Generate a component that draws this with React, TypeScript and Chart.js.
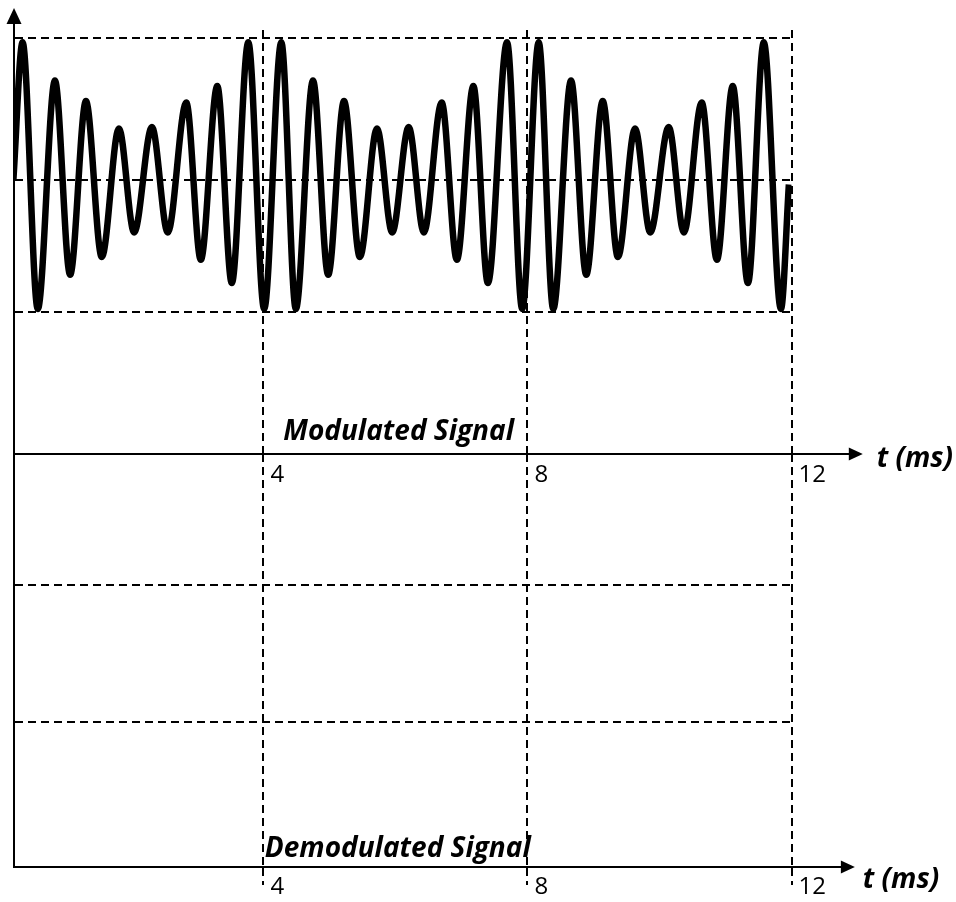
import React, { useEffect, useRef } from "react";
import { Chart, registerables } from "chart.js";

Chart.register(...registerables);

// ---- data ----
// Modulated signal: start, every crest/trough, end (time in ms, amplitude in units)
const SIGNAL_T = [
  0.21,
  0.35, 0.58, 0.84, 1.07, 1.31, 1.55, 1.81, 2.04, 2.31, 2.55, 2.83, 3.05, 3.3, 3.52, 3.77, 4.01,
  4.27, 4.49, 4.75, 4.98, 5.22, 5.46, 5.72, 5.95, 6.2, 6.43, 6.7, 6.93, 7.18, 7.4, 7.69, 7.92,
  8.17, 8.39, 8.66, 8.89, 9.14, 9.37, 9.63, 9.86, 10.14, 10.37, 10.64, 10.87, 11.11, 11.34, 11.58, 11.84,
  11.96,
];
const SIGNAL_V = [
  2.0,
  3.01, 1.06, 2.73, 1.31, 2.58, 1.44, 2.38, 1.62, 2.39, 1.62, 2.57, 1.42, 2.69, 1.25, 3.01, 1.06,
  3.01, 1.06, 2.73, 1.31, 2.58, 1.44, 2.38, 1.62, 2.39, 1.62, 2.57, 1.42, 2.69, 1.25, 3.01, 1.06,
  3.01, 1.06, 2.73, 1.31, 2.58, 1.44, 2.38, 1.62, 2.39, 1.62, 2.57, 1.42, 2.69, 1.25, 3.01, 1.06,
  1.97,
];
const TIME_TICKS = [4, 8, 12];
const TIME_MIN = 0.22;
const TIME_MAX = 12;
const MOD_LEVELS = [1.04, 2, 3.04];
const MOD_MAX = 3.1;
const DEMOD_LEVELS = [1.05, 2.05];
const DEMOD_MAX = 3.0;

const AXIS_LABEL = "t (ms)";
const TOP_TITLE = "Modulated Signal";
const BOTTOM_TITLE = "Demodulated Signal";

const FONT = '"Open Sans", "DejaVu Sans", sans-serif';
const DASH = [8, 5];

const decorPlugin = {
  id: "decor",
  afterDraw(chart: any, _args: any, o: any) {
    const { ctx, chartArea, scales } = chart;
    const x = scales.x;
    const y = scales.y;
    const ax = chartArea.bottom;
    ctx.save();
    ctx.strokeStyle = "#000";
    ctx.fillStyle = "#000";
    ctx.lineWidth = 2;
    // x axis extension with arrow
    const tipX = x.getPixelForValue(o.arrowT);
    ctx.beginPath();
    ctx.moveTo(chartArea.right, ax);
    ctx.lineTo(tipX - 10, ax);
    ctx.stroke();
    ctx.beginPath();
    ctx.moveTo(tipX, ax);
    ctx.lineTo(tipX - 14, ax - 6.5);
    ctx.lineTo(tipX - 14, ax + 6.5);
    ctx.closePath();
    ctx.fill();
    // y axis arrow
    if (o.yArrowV != null) {
      const tipY = y.getPixelForValue(o.yArrowV);
      const lx = chartArea.left;
      ctx.beginPath();
      ctx.moveTo(lx, chartArea.top);
      ctx.lineTo(lx, tipY + 10);
      ctx.stroke();
      ctx.beginPath();
      ctx.moveTo(lx, tipY);
      ctx.lineTo(lx - 7.5, tipY + 16);
      ctx.lineTo(lx + 7.5, tipY + 16);
      ctx.closePath();
      ctx.fill();
    }
    // texts
    ctx.font = "italic bold 28px " + FONT;
    ctx.textAlign = "left";
    ctx.textBaseline = "alphabetic";
    ctx.fillText(o.title, x.getPixelForValue(o.titleT), ax - o.titleGap);
    ctx.fillText(AXIS_LABEL, tipX + o.unitGap, ax + o.unitDy);
    ctx.restore();
  },
};

function buildChart(canvas: HTMLCanvasElement, cfg: any) {
  return new Chart(canvas, {
    type: "line",
    data: { datasets: cfg.datasets },
    options: {
      responsive: false,
      animation: false,
      events: [],
      layout: { padding: cfg.padding },
      plugins: {
        legend: { display: false },
        tooltip: { enabled: false },
        title: { display: false },
        decor: cfg.decor,
      } as any,
      scales: {
        x: {
          type: "linear",
          min: TIME_MIN,
          max: TIME_MAX,
          bounds: "data",
          afterBuildTicks: (s: any) => {
            s.ticks = TIME_TICKS.map((v) => ({ value: v }));
          },
          afterFit: (s: any) => {
            s.height = cfg.xHeight;
          },
          grid: {
            color: "#000",
            lineWidth: 2,
            drawTicks: cfg.tickLen > 0,
            tickLength: cfg.tickLen,
            tickColor: "#000",
            tickWidth: 2,
            tickBorderDash: DASH,
          },
          border: { display: true, color: "#000", width: 2, dash: DASH },
          ticks: {
            color: "#000",
            font: { family: FONT, size: 24 },
            align: "start",
            labelOffset: 7,
            padding: cfg.tickPad,
            maxRotation: 0,
            autoSkip: false,
            callback: (v: any) => String(v),
          },
        },
        y: {
          type: "linear",
          min: 0,
          max: cfg.yMax,
          bounds: "data",
          afterBuildTicks: (s: any) => {
            s.ticks = cfg.levels.map((v: number) => ({ value: v }));
          },
          afterFit: (s: any) => {
            s.width = 0;
          },
          grid: { color: "#000", lineWidth: 2, drawTicks: false },
          border: { display: true, color: "#000", width: 2, dash: DASH },
          ticks: { display: false },
        },
      },
    } as any,
    plugins: [decorPlugin],
  });
}

export default function App() {
  const topRef = useRef<HTMLCanvasElement>(null);
  const botRef = useRef<HTMLCanvasElement>(null);

  useEffect(() => {
    const top = buildChart(topRef.current!, {
      datasets: [
        {
          data: SIGNAL_T.map((t, i) => ({ x: t, y: SIGNAL_V[i] })),
          borderColor: "#000",
          borderWidth: 6.5,
          pointRadius: 0,
          fill: false,
          cubicInterpolationMode: "monotone",
        },
      ],
      padding: { left: 14, top: 30, right: 164.5, bottom: 408 },
      xHeight: 40,
      tickLen: 0,
      tickPad: 7,
      yMax: MOD_MAX,
      levels: MOD_LEVELS,
      decor: {
        arrowT: 13.08,
        yArrowV: 3.26,
        title: TOP_TITLE,
        titleT: 4.3,
        titleGap: 14,
        unitGap: 14,
        unitDy: 13,
      },
    });
    const bot = buildChart(botRef.current!, {
      datasets: [],
      padding: { left: 14, top: 454, right: 164.5, bottom: 0 },
      xHeight: 35,
      tickLen: 18,
      tickPad: -12,
      yMax: DEMOD_MAX,
      levels: DEMOD_LEVELS,
      decor: {
        arrowT: 12.96,
        title: BOTTOM_TITLE,
        titleT: 4.02,
        titleGap: 10,
        unitGap: 8,
        unitDy: 21,
      },
    });
    return () => {
      top.destroy();
      bot.destroy();
    };
  }, []);

  const pos: React.CSSProperties = { position: "absolute", left: 0, top: 0, display: "block" };
  return (
    <div style={{ position: "absolute", left: 0, top: 0, width: 956, height: 902, background: "#fff" }}>
      <canvas ref={botRef} width={956} height={902} style={pos} />
      <canvas ref={topRef} width={956} height={902} style={pos} />
    </div>
  );
}
